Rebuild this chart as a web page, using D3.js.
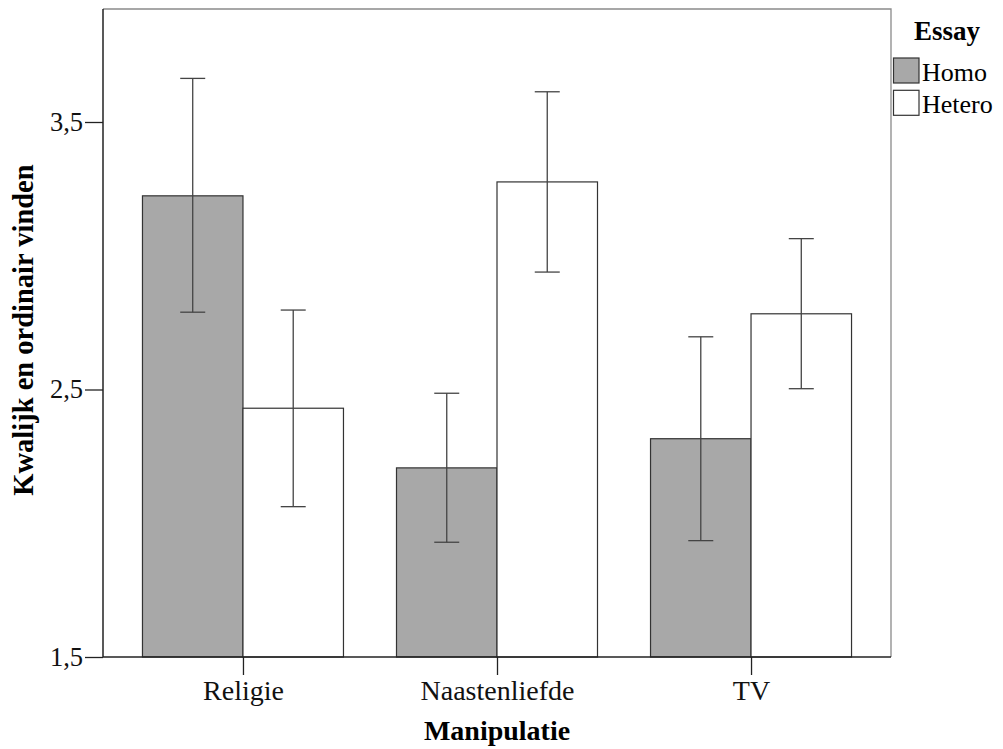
<!DOCTYPE html>
<html>
<head>
<meta charset="utf-8">
<script src="https://cdn.jsdelivr.net/npm/d3@7/dist/d3.min.js"></script>
<style>
  body { margin: 0; background: #fff; }
  svg text { font-family: "Liberation Serif", "Times New Roman", Times, "DejaVu Serif", serif !important; }
</style>
</head>
<body>
<svg id="chart" width="1003" height="749"></svg>
<script>
// data
const categories = ["Religie", "Naastenliefde", "TV"];
const groups = ["Homo", "Hetero"];
const homoMean = [3.224, 2.207, 2.316];
const homoLow = [2.789, 1.929, 1.935];
const homoHigh = [3.663, 2.486, 2.697];
const heteroMean = [2.430, 3.276, 2.783];
const heteroLow = [2.062, 2.939, 2.503];
const heteroHigh = [2.797, 3.613, 3.064];
const yTicks = [1.5, 2.5, 3.5];

// build rows for drawing
const rows = [];
categories.forEach((c, i) => {
  rows.push({cat: c, grp: "Homo", mean: homoMean[i], lo: homoLow[i], hi: homoHigh[i]});
  rows.push({cat: c, grp: "Hetero", mean: heteroMean[i], lo: heteroLow[i], hi: heteroHigh[i]});
});

// plot box (window.top is taken, so prefixed names)
const pLeft = 103, pRight = 891, pTop = 9, pBottom = 657;
const serif = '"Liberation Serif", "Times New Roman", Times, serif';
const svg = d3.select("#chart");

// scales
const x = d3.scalePoint().domain(categories).range([pLeft, pRight]).padding(0.551);
const barW = 100.5;
const xOff = d3.scaleOrdinal().domain(groups).range([-barW, 0]);
const y = d3.scaleLinear().domain([1.5, 1.5 + (pBottom - pTop) / 267.5]).range([pBottom, pTop]);
const fill = d3.scaleOrdinal().domain(groups).range(["#a8a8a8", "#ffffff"]);

// frame top and right
svg.append("path")
  .attr("d", `M${pLeft},${pTop}H${pRight}V${pBottom}`)
  .attr("fill", "none").attr("stroke", "#8a8a8a").attr("stroke-width", 1.3);

// bars
svg.append("g").selectAll("rect")
  .data(rows).enter().append("rect")
  .attr("x", d => x(d.cat) + xOff(d.grp))
  .attr("y", d => y(d.mean))
  .attr("width", barW)
  .attr("height", d => y(1.5) - y(d.mean))
  .attr("fill", d => fill(d.grp))
  .attr("stroke", "#333").attr("stroke-width", 1.2);

// error bars
const eb = svg.append("g").attr("stroke", "#444").attr("stroke-width", 1.3);
rows.forEach(d => {
  const cx = x(d.cat) + xOff(d.grp) + barW / 2;
  eb.append("line").attr("x1", cx).attr("x2", cx).attr("y1", y(d.lo)).attr("y2", y(d.hi));
  eb.append("line").attr("x1", cx - 12.5).attr("x2", cx + 12.5).attr("y1", y(d.lo)).attr("y2", y(d.lo));
  eb.append("line").attr("x1", cx - 12.5).attr("x2", cx + 12.5).attr("y1", y(d.hi)).attr("y2", y(d.hi));
});

// axes
const yAxis = d3.axisLeft(y).tickValues(yTicks).tickSize(18).tickPadding(2)
  .tickFormat(d => d3.format(".1f")(d).replace(".", ","));
const gy = svg.append("g").attr("transform", `translate(${pLeft},0)`).call(yAxis);

const xAxis = d3.axisBottom(x).tickSize(18).tickPadding(5);
const gx = svg.append("g").attr("transform", `translate(0,${pBottom})`).call(xAxis);

[gy, gx].forEach(g => {
  g.attr("font-family", serif).attr("font-size", 26.5);
  g.select(".domain").attr("stroke", "#222").attr("stroke-width", 1.5);
  g.selectAll(".tick line").attr("stroke", "#222").attr("stroke-width", 1.3);
  g.selectAll("text").attr("fill", "#111");
});
gx.attr("font-size", 28);
gy.select(".domain").attr("d", `M0,${pTop}V${pBottom}`);
gx.select(".domain").attr("d", `M${pLeft},0H${pRight}`);

// axis titles
svg.append("text")
  .attr("x", x("Naastenliefde")).attr("y", 740)
  .attr("text-anchor", "middle").attr("font-weight", "bold").attr("font-size", 28)
  .attr("font-family", serif)
  .text("Manipulatie");

svg.append("text")
  .attr("transform", "translate(33,330) rotate(-90)")
  .attr("text-anchor", "middle").attr("font-weight", "bold").attr("font-size", 28.5)
  .attr("font-family", serif)
  .text("Kwalijk en ordinair vinden");

// legend
const lg = svg.append("g").attr("font-family", serif);
lg.append("text").attr("x", 914).attr("y", 40).attr("font-weight", "bold").attr("font-size", 27).text("Essay");
groups.forEach((g, i) => {
  lg.append("rect").attr("x", 893.5).attr("y", 58 + i * 32.3).attr("width", 25.5).attr("height", 25)
    .attr("fill", fill(g)).attr("stroke", "#333").attr("stroke-width", 1.2);
  lg.append("text").attr("x", 922).attr("y", 81 + i * 32.3).attr("font-size", 26).text(g);
});
</script>
</body>
</html>
